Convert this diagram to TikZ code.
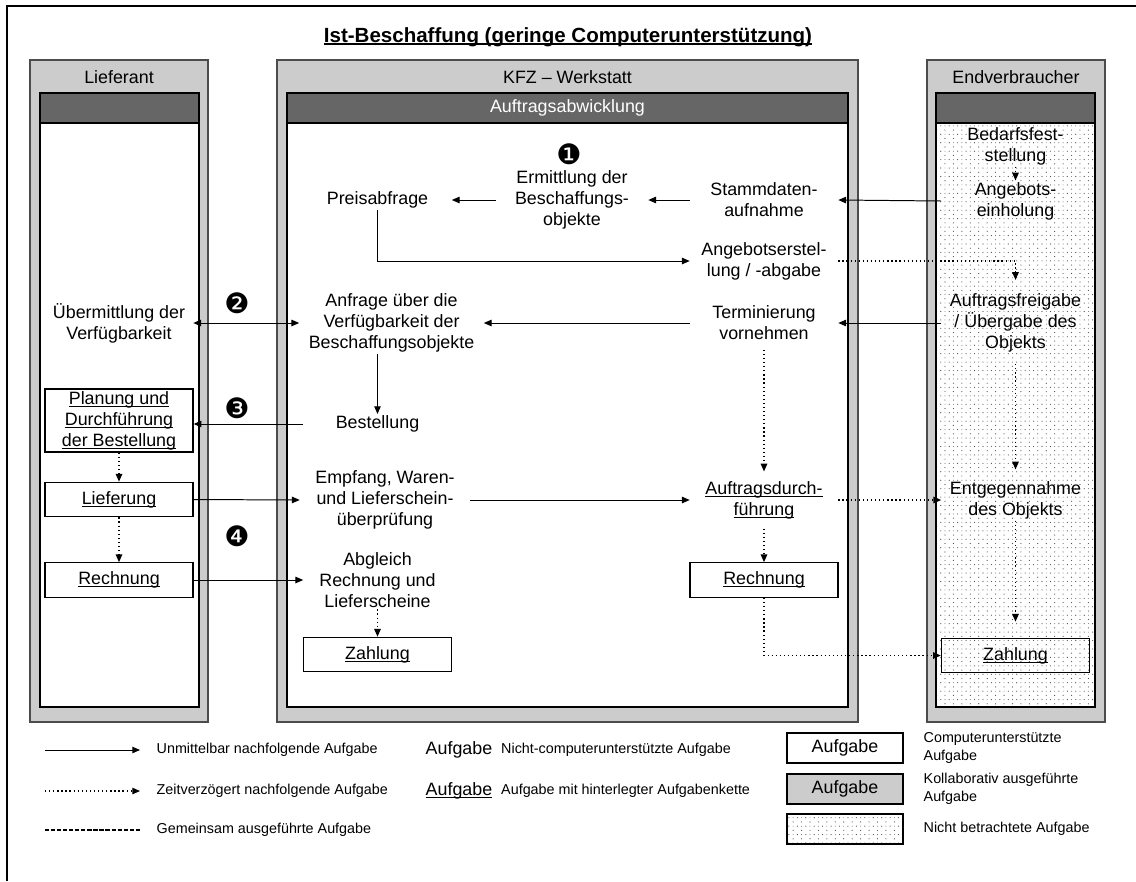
\documentclass[tikz,border=0pt]{standalone}
\usepackage{fontspec}
\setmainfont{Liberation Sans}
\newfontfamily\dingfont{DejaVu Sans}
\usetikzlibrary{arrows.meta,patterns}

\definecolor{laneGray}{gray}{0.80}
\definecolor{headGray}{gray}{0.40}
\definecolor{rimGray}{gray}{0.30}
\definecolor{dotGray}{gray}{0.30}

% underlined task (task with its own chain behind it)
\newcommand{\kette}[2][0.55pt]{\setbox0\hbox{#2}\rlap{\rule[-1.7pt]{\wd0}{#1}}\box0}
\newcommand{\schritt}[1]{{\dingfont\fontsize{20}{20}\selectfont#1}}

\pgfdeclarepatternformonly{lanedots}{\pgfqpoint{-0.5pt}{-0.5pt}}{\pgfqpoint{6.5pt}{6.5pt}}{\pgfqpoint{6pt}{6pt}}{%
  \pgfpathcircle{\pgfqpoint{0pt}{0pt}}{0.42pt}%
  \pgfpathcircle{\pgfqpoint{3pt}{3pt}}{0.42pt}%
  \pgfpathcircle{\pgfqpoint{0pt}{3pt}}{0.3pt}%
  \pgfusepath{fill}}

\begin{document}
\begin{tikzpicture}[x=0.025cm,y=-0.025cm,>={Triangle[length=5.5pt,width=4.6pt]},
  every node/.style={font=\fontsize{12.7}{15}\selectfont,align=center,inner sep=1pt},
  col/.style={minimum width=3.7cm},
  task/.style={col,draw,line width=0.9pt,minimum height=0.86cm},
  go/.style={->,line width=0.7pt},
  both/.style={<->,line width=0.7pt},
  later/.style={->,line width=0.9pt,dash pattern=on 0.9pt off 2pt},
  legtext/.style={font=\fontsize{10.2}{13}\selectfont,anchor=west,align=left}]

\useasboundingbox (0,0) rectangle (1136,881);
\draw[line width=1.4pt] (7,881) -- (7,6) -- (1136,6);

\node (titel) at (568,37) {\fontsize{14.6}{16}\selectfont\bfseries\kette[0.9pt]{Ist-Beschaffung (geringe Computerunterstützung)}};

%lanes
\foreach \xa/\xb/\xc/\xd in {30/208/40/199,277/858/287/848,927/1105/936/1095}{
  \filldraw[fill=laneGray,draw=rimGray,line width=1pt] (\xa,60) rectangle (\xb,722);
  \fill[white] (\xc,93) rectangle (\xd,707);
  \filldraw[fill=headGray,draw=black,line width=0.8pt] (\xc,93) rectangle (\xd,123);
}
\fill[pattern=lanedots,pattern color=dotGray] (936,123) rectangle (1095,707);
\foreach \xc/\xd in {40/199,287/848,936/1095}
  \draw[line width=0.8pt] (\xc,93) rectangle (\xd,707);

\node (lieferant) at (119,77) {Lieferant};
\node (werkstatt) at (567.5,77) {KFZ -- Werkstatt};
\node (kunde) at (1016,77) {Endverbraucher};
\node[text=white] (abwicklung) at (567.5,108) {Auftragsabwicklung};

%Lieferant
\node[col] (uebermittlung) at (119,323) {Übermittlung der\\Verfügbarkeit};
\node[task,minimum height=1.58cm] (planung) at (119,420.5) {\kette{Planung und}\\\kette{Durchführung}\\\kette{der Bestellung}};
\node[task] (lieferung) at (119,499.5) {\kette{Lieferung}};
\node[task] (rechnungL) at (119,580) {\kette{Rechnung}};

%Werkstatt
\node[col] (preis) at (377.5,200) {Preisabfrage};
\node[col,minimum width=3.8cm] (ermittlung) at (572,200) {Ermittlung der\\Beschaffungs-\\objekte};
\node[col] (stamm) at (764,200) {Stammdaten-\\aufnahme};
\node[col] (angebot) at (764,261) {Angebotserstel-\\lung / -abgabe};
\node[minimum width=4.6cm] (anfrage) at (391.5,323) {Anfrage über die\\Verfügbarkeit der\\Beschaffungsobjekte};
\node[col] (termin) at (764,323) {Terminierung\\vornehmen};
\node[col] (bestellung) at (377.5,424) {Bestellung};
\node[minimum width=4.25cm] (empfang) at (385,500) {Empfang, Waren-\\und Lieferschein-\\überprüfung};
\node[col] (durchf) at (764,500) {\kette{Auftragsdurch-}\\\kette{führung}};
\node[col] (abgleich) at (377.5,580) {Abgleich\\Rechnung und\\Lieferscheine};
\node[task] (rechnungK) at (764,580) {\kette{Rechnung}};
\node[task] (zahlungK) at (377.5,654.5) {\kette{Zahlung}};

%Endverbraucher
\node[col] (bedarf) at (1015.5,146) {Bedarfsfest-\\stellung};
\node[col] (einholung) at (1015.5,201) {Angebots-\\einholung};
\node[col] (freigabe) at (1015.5,323) {Auftragsfreigabe\\/ Übergabe des\\Objekts};
\node[col] (entgegen) at (1015.5,500) {Entgegennahme\\des Objekts};
\node[task] (zahlungE) at (1015.5,655.5) {\kette{Zahlung}};

\node (n1) at (569,154) {\schritt{❶}};
\node (n2) at (237,303) {\schritt{❷}};
\node (n3) at (237,408) {\schritt{❸}};
\node (n4) at (237,536) {\schritt{❹}};

\begin{scope}
%solid arrows
\draw[go] (einholung.west) -- (stamm.east);
\draw[go] (stamm.west) -- (ermittlung.east);
\draw[go] (ermittlung.west) -- (preis.east);
\draw[go] (preis.south) |- (angebot.west);
\draw[go] (freigabe.west) -- (termin.east);
\draw[go] (termin.west) -- (anfrage.east);
\draw[both] (uebermittlung.east) -- (anfrage.west);
\draw[go] (bestellung |- anfrage.south) -- (bestellung.north);
\draw[go] (bestellung.west) -- (bestellung.west -| planung.east);
\draw[go] (lieferung.east) -- (empfang.west);
\draw[go] (rechnungL.east) -- (abgleich.west);
\draw[go] (empfang.east) -- (durchf.west);
%dotted arrows
\draw[later,shorten >=0.3cm] (angebot.east) -| (freigabe.north);
\draw[later] (bedarf.south) -- (einholung.north);
\draw[later,shorten <=0.25cm,shorten >=0.25cm] (freigabe.south) -- (entgegen.north);
\draw[later,shorten >=0.4cm] (entgegen.south) -- (zahlungE.north);
\draw[later,shorten <=0.2cm,shorten >=0.2cm] (termin.south) -- (durchf.north);
\draw[later,shorten <=0.2cm] (durchf.south) -- (rechnungK.north);
\draw[later] (durchf.east) -- (entgegen.west);
\draw[later] (rechnungK.south) |- (zahlungE.west);
\draw[later] (planung.south) -- (lieferung.north);
\draw[later] (lieferung.south) -- (rechnungL.north);
\draw[later] (abgleich.south) -- (zahlungK.north);
\end{scope}

%legend
\coordinate (s1) at (45,750);  \coordinate (e1) at (140,750);
\coordinate (s2) at (45,791);  \coordinate (e2) at (140,791);
\coordinate (s3) at (45,830);  \coordinate (e3) at (140,830);
\draw[go] (s1) -- (e1);
\draw[later] (s2) -- (e2);
\draw[line width=0.9pt,dash pattern=on 3pt off 1.3pt] (s3) -- (e3);
\node[legtext] (leg1) at (155,750) {Unmittelbar nachfolgende Aufgabe};
\node[legtext] (leg2) at (155,791) {Zeitverzögert nachfolgende Aufgabe};
\node[legtext] (leg3) at (155,830) {Gemeinsam ausgeführte Aufgabe};

\node[anchor=west,font=\fontsize{12.7}{15}\selectfont] (aufg1) at (424,750) {Aufgabe};
\node[legtext] (leg4) at ([xshift=4pt]aufg1.east) {Nicht-computerunterstützte Aufgabe};
\node[anchor=west,font=\fontsize{12.7}{15}\selectfont] (aufg2) at (424,791) {\kette{Aufgabe}};
\node[legtext] (leg5) at ([xshift=4pt]aufg2.east) {Aufgabe mit hinterlegter Aufgabenkette};

\node[draw,line width=0.9pt,minimum width=2.9cm,minimum height=0.75cm,font=\fontsize{12.7}{15}\selectfont] (kasten1) at (845,748) {Aufgabe};
\node[draw,fill=laneGray,line width=0.9pt,minimum width=2.9cm,minimum height=0.75cm,font=\fontsize{12.7}{15}\selectfont] (kasten2) at (845,789) {Aufgabe};
\node[draw,pattern=lanedots,pattern color=dotGray,line width=0.9pt,minimum width=2.9cm,minimum height=0.75cm] (kasten3) at (845,829) {};
\node[legtext] (leg6) at (922,748) {Computerunterstützte\\Aufgabe};
\node[legtext] (leg7) at (922,789) {Kollaborativ ausgeführte\\Aufgabe};
\node[legtext] (leg8) at (922,829) {Nicht betrachtete Aufgabe};
\end{tikzpicture}
\end{document}
